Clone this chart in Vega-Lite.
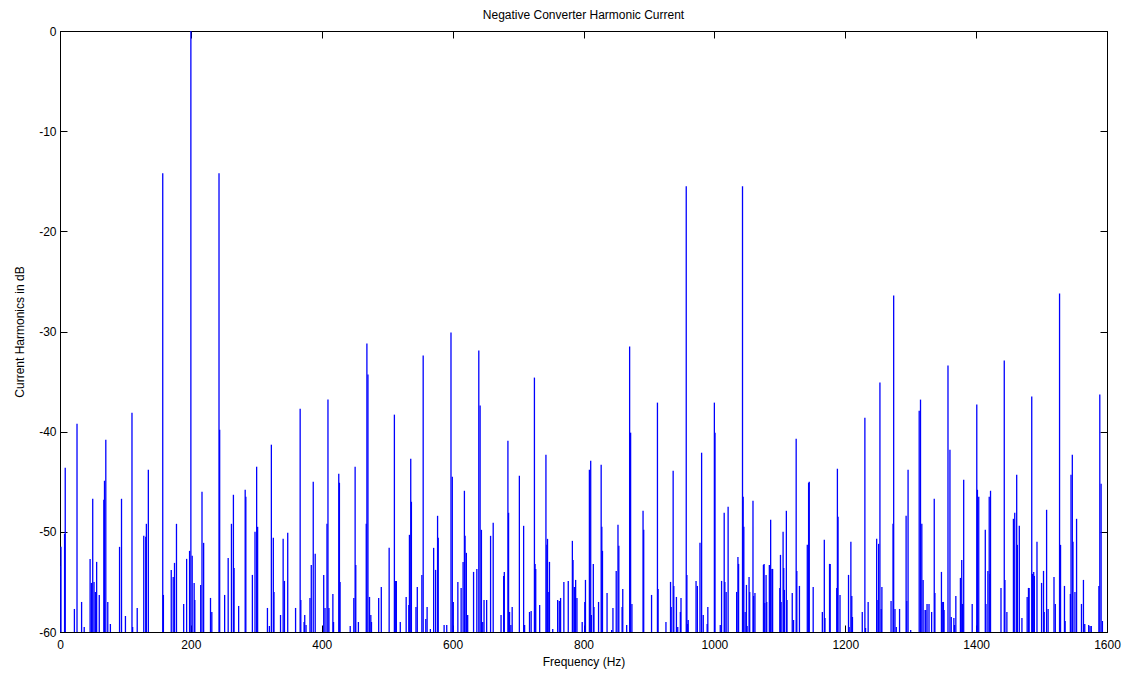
{
  "$schema": "https://vega.github.io/schema/vega-lite/v6.json",
  "width": 1047,
  "height": 601,
  "autosize": {"type": "none"},
  "padding": {"left": 60, "top": 31, "right": 25, "bottom": 43},
  "background": "white",
  "config": {
    "locale": {"number": {"decimal": ".", "thousands": "", "grouping": [3], "currency": ["$", ""], "minus": "-"}},
    "view": {"stroke": "black", "strokeWidth": 1},
    "font": "Liberation Sans",
    "axis": {
      "grid": false,
      "labelFlush": false,
      "domainColor": "black",
      "domainWidth": 1,
      "tickColor": "black",
      "tickSize": -7,
      "labelColor": "black",
      "labelFont": "Liberation Sans",
      "labelFontSize": 12,
      "titleFont": "Liberation Sans",
      "titleFontSize": 12,
      "titleFontWeight": "normal",
      "titleColor": "black"
    }
  },
  "title": {"text": "Negative Converter Harmonic Current", "fontSize": 12, "fontWeight": "normal", "font": "Liberation Sans", "color": "black", "offset": 3},
  "data": {"values": [
    {"f":0,"db":-53.4},{"f":1.5,"db":-51.5},{"f":7,"db":-50.2},{"f":8,"db":-43.6},{"f":22,"db":-57.7},{"f":26,"db":-39.2},{"f":33,"db":-57},{"f":37,"db":-59.5},{"f":46,"db":-52.7},{"f":48,"db":-55.1},{"f":50,"db":-46.7},{"f":52,"db":-55},{"f":54,"db":-56},{"f":56,"db":-53},{"f":60,"db":-56.3},{"f":67,"db":-46.8},{"f":68,"db":-44.9},{"f":70,"db":-40.8},{"f":73,"db":-57},{"f":77,"db":-59.2},{"f":91,"db":-51.5},{"f":94,"db":-46.7},{"f":100,"db":-58.4},{"f":110,"db":-38.1},{"f":111,"db":-59.5},{"f":118,"db":-57.6},{"f":128,"db":-50.4},{"f":131,"db":-50.5},{"f":132,"db":-49.2},{"f":135,"db":-43.8},{"f":157,"db":-14.2},{"f":158,"db":-56.3},{"f":170,"db":-53.8},{"f":173,"db":-54.5},{"f":175,"db":-53.1},{"f":178,"db":-49.2},{"f":189,"db":-57.2},{"f":193.5,"db":-52.7},{"f":198,"db":-51.9},{"f":200,"db":0},{"f":202,"db":-52.4},{"f":205,"db":-55.1},{"f":206,"db":-56.8},{"f":215,"db":-55.3},{"f":217,"db":-46},{"f":219.5,"db":-51.1},{"f":230,"db":-56.6},{"f":232,"db":-58},{"f":243,"db":-14.2},{"f":244,"db":-39.8},{"f":251.6,"db":-56.3},{"f":257,"db":-52.6},{"f":262,"db":-49.2},{"f":265,"db":-46.3},{"f":266,"db":-53.6},{"f":273,"db":-57.4},{"f":283,"db":-45.8},{"f":284,"db":-46.5},{"f":294,"db":-54.3},{"f":298,"db":-50},{"f":300.5,"db":-43.5},{"f":302,"db":-49.5},{"f":317,"db":-57.6},{"f":320,"db":-59.4},{"f":323,"db":-41.3},{"f":326,"db":-50.6},{"f":327,"db":-56},{"f":337,"db":-58.3},{"f":341,"db":-50.7},{"f":343,"db":-54.9},{"f":348,"db":-50.1},{"f":360,"db":-57.6},{"f":367,"db":-37.7},{"f":368,"db":-56.8},{"f":373,"db":-59},{"f":374,"db":-58.3},{"f":376,"db":-59.3},{"f":382,"db":-56.6},{"f":384,"db":-53.3},{"f":387,"db":-45},{"f":390,"db":-52.2},{"f":403,"db":-54.3},{"f":405,"db":-57.6},{"f":408,"db":-49.2},{"f":409.5,"db":-36.8},{"f":411,"db":-57.6},{"f":417,"db":-56.2},{"f":418,"db":-59},{"f":426,"db":-44.2},{"f":427,"db":-45.1},{"f":428,"db":-55},{"f":443.5,"db":-59.4},{"f":449,"db":-56.6},{"f":451,"db":-43.5},{"f":452,"db":-53.3},{"f":456,"db":-59},{"f":468,"db":-49.2},{"f":469,"db":-31.2},{"f":470.6,"db":-34.3},{"f":473,"db":-56.5},{"f":475,"db":-58.3},{"f":476,"db":-59},{"f":487,"db":-56.6},{"f":491,"db":-55.5},{"f":503,"db":-51.6},{"f":511,"db":-38.3},{"f":513,"db":-54.9},{"f":514,"db":-54.9},{"f":520,"db":-59},{"f":529,"db":-56.5},{"f":533,"db":-57.3},{"f":534,"db":-50.3},{"f":536,"db":-42.7},{"f":537,"db":-47},{"f":544,"db":-57.5},{"f":546,"db":-55.5},{"f":553,"db":-54.3},{"f":555,"db":-32.4},{"f":559,"db":-58.7},{"f":561,"db":-57.5},{"f":566,"db":-59.7},{"f":571,"db":-51.6},{"f":574,"db":-53.8},{"f":577,"db":-48.4},{"f":578,"db":-50.6},{"f":587,"db":-59.3},{"f":591,"db":-59.3},{"f":597.5,"db":-30.1},{"f":599.5,"db":-44.5},{"f":601,"db":-57},{"f":608,"db":-55},{"f":613,"db":-55.6},{"f":616,"db":-53},{"f":618,"db":-45.9},{"f":619,"db":-50.4},{"f":621,"db":-52.1},{"f":623,"db":-58.3},{"f":632,"db":-54},{"f":637,"db":-53.7},{"f":640,"db":-31.9},{"f":642,"db":-37.4},{"f":644,"db":-49.8},{"f":646,"db":-59},{"f":648,"db":-56.8},{"f":652,"db":-56.8},{"f":658,"db":-50.4},{"f":662,"db":-49.1},{"f":674,"db":-58.3},{"f":678,"db":-54.4},{"f":679,"db":-54},{"f":684.5,"db":-40.9},{"f":685.5,"db":-48.1},{"f":687,"db":-58},{"f":689,"db":-59.3},{"f":691,"db":-57.5},{"f":702,"db":-44.4},{"f":708.5,"db":-49.4},{"f":710,"db":-59.3},{"f":717.5,"db":-58},{"f":720,"db":-57.9},{"f":725,"db":-34.6},{"f":726,"db":-53.2},{"f":727,"db":-53.7},{"f":733,"db":-57.3},{"f":742.6,"db":-42.3},{"f":744,"db":-51.3},{"f":745,"db":-50.7},{"f":747,"db":-56},{"f":748,"db":-53},{"f":753,"db":-59.7},{"f":760.5,"db":-56.8},{"f":763,"db":-56.9},{"f":765,"db":-56.6},{"f":770,"db":-55},{"f":776.7,"db":-54.9},{"f":783,"db":-50.9},{"f":784,"db":-52.8},{"f":786,"db":-55.5},{"f":788,"db":-54.8},{"f":790,"db":-56.6},{"f":798,"db":-59},{"f":802,"db":-57},{"f":803,"db":-54.8},{"f":809,"db":-43.8},{"f":811,"db":-42.9},{"f":812,"db":-58.3},{"f":815,"db":-53.2},{"f":816,"db":-57.5},{"f":823,"db":-57},{"f":827,"db":-43.3},{"f":828,"db":-49.5},{"f":829,"db":-51.9},{"f":836,"db":-56.1},{"f":843,"db":-59.8},{"f":845,"db":-57.6},{"f":850,"db":-53.9},{"f":852.7,"db":-49.3},{"f":854,"db":-51.4},{"f":859,"db":-57.5},{"f":860,"db":-55.7},{"f":866,"db":-59.3},{"f":870.5,"db":-31.5},{"f":872,"db":-40.1},{"f":874,"db":-57.2},{"f":891,"db":-47.9},{"f":892,"db":-49.8},{"f":904,"db":-56.3},{"f":913,"db":-37.1},{"f":914,"db":-55.7},{"f":926,"db":-59},{"f":933,"db":-55},{"f":934,"db":-57.5},{"f":937,"db":-43.9},{"f":938,"db":-55.4},{"f":942,"db":-56.5},{"f":944,"db":-59.5},{"f":948,"db":-58},{"f":949,"db":-56.6},{"f":957,"db":-15.5},{"f":958,"db":-54.3},{"f":959,"db":-59.2},{"f":960,"db":-58.8},{"f":972,"db":-54.9},{"f":974,"db":-55.4},{"f":978,"db":-51.1},{"f":980.5,"db":-42.1},{"f":983,"db":-58.3},{"f":989,"db":-59.2},{"f":990,"db":-57.5},{"f":1000,"db":-37.1},{"f":1001,"db":-40.1},{"f":1009,"db":-59.3},{"f":1011,"db":-54.9},{"f":1015,"db":-48.1},{"f":1016,"db":-55},{"f":1018,"db":-56},{"f":1021,"db":-47.5},{"f":1034,"db":-56},{"f":1036,"db":-52.5},{"f":1037,"db":-53.2},{"f":1043,"db":-15.5},{"f":1044,"db":-46.5},{"f":1045,"db":-49.5},{"f":1047,"db":-58},{"f":1049,"db":-55.3},{"f":1050,"db":-59.4},{"f":1053,"db":-54.5},{"f":1054,"db":-56},{"f":1059,"db":-46.9},{"f":1060,"db":-56.4},{"f":1062,"db":-56.1},{"f":1075,"db":-53.3},{"f":1076,"db":-53.2},{"f":1077,"db":-57.1},{"f":1079,"db":-54.3},{"f":1080,"db":-57},{"f":1084,"db":-53.3},{"f":1086,"db":-48.8},{"f":1088,"db":-53.7},{"f":1089,"db":-53.7},{"f":1100,"db":-55.6},{"f":1101,"db":-52.3},{"f":1102,"db":-57},{"f":1105,"db":-50},{"f":1106,"db":-53.6},{"f":1107,"db":-55.8},{"f":1110,"db":-47.9},{"f":1111,"db":-56.8},{"f":1119,"db":-56.1},{"f":1121,"db":-58.8},{"f":1125,"db":-40.7},{"f":1126,"db":-53.9},{"f":1130,"db":-55.4},{"f":1142,"db":-51.3},{"f":1144,"db":-45.1},{"f":1145,"db":-45},{"f":1151,"db":-55.5},{"f":1165,"db":-58},{"f":1168,"db":-50.8},{"f":1169,"db":-58.6},{"f":1176,"db":-53.2},{"f":1177,"db":-53.2},{"f":1187,"db":-55.6},{"f":1188,"db":-43.7},{"f":1189,"db":-48.5},{"f":1192,"db":-56.3},{"f":1205,"db":-54.3},{"f":1206,"db":-59.5},{"f":1208.6,"db":-51},{"f":1210,"db":-56.4},{"f":1211,"db":-58.5},{"f":1226,"db":-58},{"f":1230,"db":-38.6},{"f":1231,"db":-59.6},{"f":1235,"db":-57},{"f":1248,"db":-50.7},{"f":1250,"db":-56.8},{"f":1251,"db":-51.2},{"f":1253,"db":-35.1},{"f":1255,"db":-57.7},{"f":1256,"db":-55.5},{"f":1270,"db":-56.9},{"f":1273,"db":-49.2},{"f":1274,"db":-26.4},{"f":1276,"db":-57.7},{"f":1278,"db":-59.5},{"f":1283,"db":-57.7},{"f":1293,"db":-48.4},{"f":1294,"db":-56.9},{"f":1296,"db":-43.8},{"f":1300,"db":-59.8},{"f":1313,"db":-37.9},{"f":1315,"db":-36.8},{"f":1317,"db":-49.2},{"f":1319,"db":-54.8},{"f":1322,"db":-57.8},{"f":1323,"db":-57.8},{"f":1325,"db":-57.2},{"f":1328,"db":-57.2},{"f":1332,"db":-58},{"f":1336,"db":-46.7},{"f":1337,"db":-56.1},{"f":1347,"db":-54},{"f":1349,"db":-57},{"f":1350,"db":-57},{"f":1351,"db":-57.8},{"f":1357,"db":-33.4},{"f":1360,"db":-41.8},{"f":1362,"db":-58.5},{"f":1366,"db":-58.6},{"f":1367,"db":-59.3},{"f":1369,"db":-56.4},{"f":1376,"db":-54.6},{"f":1378,"db":-52.8},{"f":1379,"db":-57.2},{"f":1381,"db":-44.8},{"f":1394,"db":-57.2},{"f":1401,"db":-37.3},{"f":1402,"db":-45.8},{"f":1404,"db":-46.5},{"f":1414,"db":-49.8},{"f":1415,"db":-57.2},{"f":1418,"db":-53.9},{"f":1420,"db":-46.5},{"f":1421,"db":-54.2},{"f":1422,"db":-45.9},{"f":1438,"db":-55.6},{"f":1443,"db":-32.9},{"f":1444,"db":-54.8},{"f":1447,"db":-58},{"f":1457,"db":-48.7},{"f":1459,"db":-48.1},{"f":1462,"db":-44.3},{"f":1463,"db":-51.3},{"f":1466,"db":-49.4},{"f":1470,"db":-58.6},{"f":1478,"db":-56.5},{"f":1480,"db":-55.6},{"f":1481,"db":-55.6},{"f":1485,"db":-36.5},{"f":1486,"db":-54.2},{"f":1488,"db":-54},{"f":1489,"db":-54.4},{"f":1493,"db":-51},{"f":1500,"db":-55.1},{"f":1503,"db":-53.9},{"f":1504,"db":-58},{"f":1507.7,"db":-47.8},{"f":1510,"db":-57.7},{"f":1519,"db":-54.5},{"f":1521,"db":-57.2},{"f":1527.5,"db":-26.2},{"f":1529,"db":-51.3},{"f":1535,"db":-55.4},{"f":1536,"db":-58.9},{"f":1544,"db":-56.2},{"f":1545,"db":-44.3},{"f":1547,"db":-42.3},{"f":1548,"db":-51},{"f":1551,"db":-56},{"f":1553.5,"db":-48.7},{"f":1561,"db":-57.2},{"f":1564,"db":-54.8},{"f":1566,"db":-59.2},{"f":1572,"db":-59.3},{"f":1574,"db":-59.4},{"f":1576,"db":-59.4},{"f":1587.6,"db":-55.4},{"f":1589,"db":-36.3},{"f":1591,"db":-45.2},{"f":1593,"db":-58.9}
  ]},
  "layer": [
    {
      "mark": {"type": "rule", "color": "#0000ff", "strokeWidth": 1.3, "clip": true},
      "encoding": {
        "x": {"field": "f", "type": "quantitative", "scale": {"domain": [0, 1600], "nice": false, "zero": false},
              "axis": {"orient": "bottom", "values": [0,200,400,600,800,1000,1200,1400,1600], "format": "d", "title": "Frequency (Hz)", "labelPadding": 14, "titlePadding": 6, "labelFlush": false}},
        "y": {"field": "db", "type": "quantitative", "scale": {"domain": [-60, 0], "nice": false, "zero": false},
              "axis": {"orient": "left", "values": [-60,-50,-40,-30,-20,-10,0], "format": "d", "title": "Current Harmonics in dB", "labelPadding": 11, "titlePadding": 12, "labelFlush": false}},
        "y2": {"datum": -60}
      }
    },
    {
      "mark": {"type": "rule", "opacity": 0},
      "encoding": {
        "x": {"field": "f", "type": "quantitative", "axis": {"orient": "top", "values": [0,200,400,600,800,1000,1200,1400,1600], "labels": false, "title": null}},
        "y": {"field": "db", "type": "quantitative", "axis": {"orient": "right", "values": [-60,-50,-40,-30,-20,-10,0], "labels": false, "title": null}}
      }
    }
  ],
  "resolve": {"axis": {"x": "independent", "y": "independent"}}
}
